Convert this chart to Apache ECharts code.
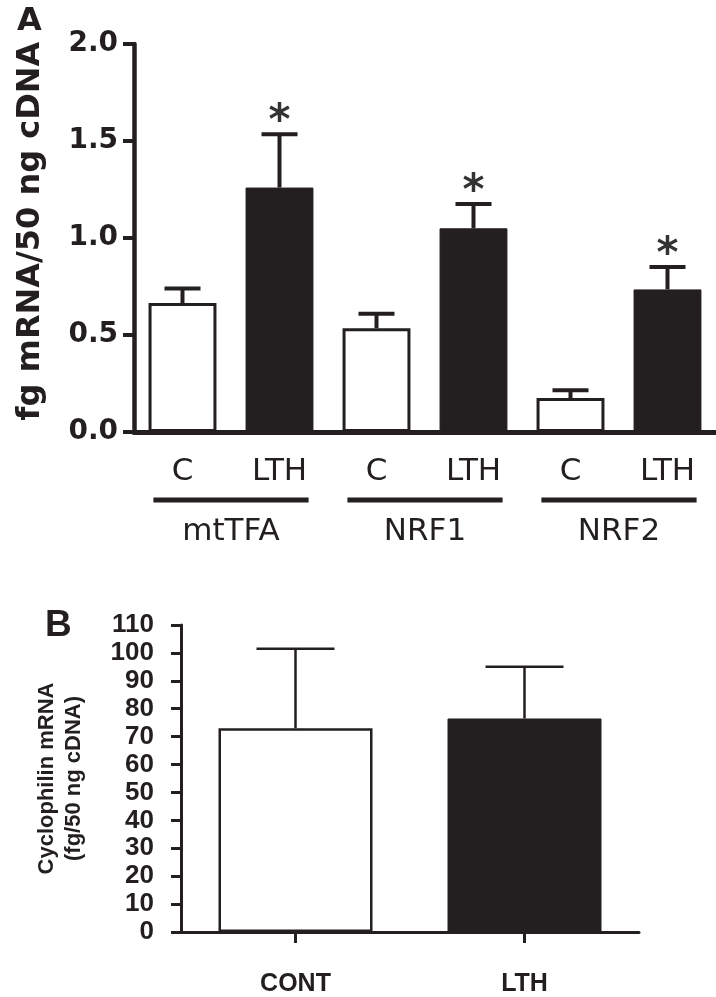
<!DOCTYPE html>
<html>
<head>
<meta charset="utf-8">
<script src="https://cdn.jsdelivr.net/npm/echarts@6/dist/echarts.min.js"></script>
<style>html,body{margin:0;padding:0;background:#fff}#c{width:716px;height:997px}</style>
</head>
<body>
<div id="c"></div>
<script>
// ---------- Panel A data ----------
const genes = ['mtTFA', 'NRF1', 'NRF2'];
const groupsA = ['C', 'LTH'];
const controlMean = [0.665, 0.535, 0.175];
const controlSEM = [0.075, 0.075, 0.04];
const lthMean = [1.26, 1.05, 0.735];
const lthSEM = [0.275, 0.125, 0.115];
const lthSignificant = [true, true, true];
const yTicksA = [0, 0.5, 1.0, 1.5, 2.0];

// ---------- Panel B data ----------
const categoriesB = ['CONT', 'LTH'];
const cyclophilinMean = [73, 76.5];
const cyclophilinSEM = [28.5, 18.5];
const yTicksB = [0, 10, 20, 30, 40, 50, 60, 70, 80, 90, 100, 110];

const INK = '#231f20';
const WHITE = '#ffffff';

// build category list and bar/error data for panel A
const catsA = [];
const barA = [];
const errA = [];
genes.forEach((g, i) => {
  catsA.push(g + '|' + groupsA[0]);
  catsA.push(g + '|' + groupsA[1]);
  barA.push({ value: controlMean[i], itemStyle: { color: WHITE, borderColor: INK, borderWidth: 3 } });
  barA.push({ value: lthMean[i], itemStyle: { color: INK, borderColor: INK, borderWidth: 1 } });
  errA.push([2 * i, controlMean[i], controlSEM[i], 0]);
  errA.push([2 * i + 1, lthMean[i], lthSEM[i], lthSignificant[i] ? 1 : 0]);
});
const groupSpans = genes.map((g, i) => [2 * i, 2 * i + 1, 0]);

const barB = categoriesB.map((c, i) => ({
  value: cyclophilinMean[i],
  itemStyle: i === 0 ? { color: WHITE, borderColor: INK, borderWidth: 2.5 } : { color: INK, borderColor: INK, borderWidth: 1 }
}));
const errB = categoriesB.map((c, i) => [i, cyclophilinMean[i], cyclophilinSEM[i], 0]);

function errorRenderer(capHalf, lw, starFont, starOffset) {
  return function (params, api) {
    const x = api.value(0), m = api.value(1), s = api.value(2), sig = api.value(3);
    const p0 = api.coord([x, m]);
    const p1 = api.coord([x, m + s]);
    const st = { stroke: INK, lineWidth: lw };
    const children = [
      { type: 'line', shape: { x1: p0[0], y1: p0[1], x2: p1[0], y2: p1[1] }, style: st },
      { type: 'line', shape: { x1: p1[0] - capHalf, y1: p1[1], x2: p1[0] + capHalf, y2: p1[1] }, style: st }
    ];
    if (sig) {
      children.push({
        type: 'text', x: p1[0], y: p1[1] - starOffset,
        style: { text: '*', fill: '#333', font: starFont, align: 'center', verticalAlign: 'middle' }
      });
    }
    return { type: 'group', children: children };
  };
}

function groupRenderer(params, api) {
  const a = api.coord([api.value(0), 0]);
  const b = api.coord([api.value(1), 0]);
  const band = api.size([1, 0])[0];
  const mid = (a[0] + b[0]) / 2;
  const half = 0.8 * band;
  const base = a[1];
  return {
    type: 'group',
    children: [
      { type: 'line', shape: { x1: mid - half, y1: base + 68, x2: mid + half, y2: base + 68 }, style: { stroke: INK, lineWidth: 5 } },
      { type: 'text', x: mid, y: base + 100, style: { text: genes[params.dataIndex], fill: INK, font: '31px "DejaVu Sans"', align: 'center', verticalAlign: 'middle' } }
    ]
  };
}

const chart = echarts.init(document.getElementById('c'), null, { renderer: 'canvas' });
chart.setOption({
  animation: false,
  backgroundColor: '#fff',
  title: [
    { text: 'A', left: 12, top: 1, textStyle: { fontFamily: 'DejaVu Sans', fontWeight: 'bold', fontSize: 32, color: INK } },
    { text: 'B', left: 40, top: 602, textStyle: { fontFamily: 'Liberation Sans', fontWeight: 'bold', fontSize: 37, color: INK } }
  ],
  grid: [
    { left: 134, right: 0, top: 44, height: 388 },
    { left: 181, right: 77, top: 625, height: 307 }
  ],
  xAxis: [
    {
      gridIndex: 0, type: 'category', data: catsA,
      axisLine: { lineStyle: { color: INK, width: 5 } },
      axisTick: { show: false },
      axisLabel: { formatter: v => v.split('|')[1], color: INK, fontFamily: 'DejaVu Sans', fontSize: 31, margin: 24 }
    },
    {
      gridIndex: 1, type: 'category', data: categoriesB,
      axisLine: { lineStyle: { color: INK, width: 3 } },
      axisTick: { show: true, alignWithLabel: true, length: 11, lineStyle: { color: INK, width: 3 } },
      axisLabel: { color: INK, fontFamily: 'Liberation Sans', fontWeight: 'bold', fontSize: 25, margin: 40 }
    }
  ],
  yAxis: [
    {
      gridIndex: 0, type: 'value', min: yTicksA[0], max: yTicksA[yTicksA.length - 1], interval: 0.5,
      axisLine: { show: true, lineStyle: { color: INK, width: 4.5 } },
      axisTick: { show: true, length: 11, lineStyle: { color: INK, width: 4 } },
      splitLine: { show: false },
      axisLabel: { formatter: v => v.toFixed(1), color: INK, fontFamily: 'DejaVu Sans', fontWeight: 'bold', fontSize: 28, margin: 16 },
      name: 'fg mRNA/50 ng cDNA', nameLocation: 'middle', nameGap: 87,
      nameTextStyle: { color: INK, fontFamily: 'DejaVu Sans', fontWeight: 'bold', fontSize: 32, padding: [0, 0, 0, 14] }
    },
    {
      gridIndex: 1, type: 'value', min: yTicksB[0], max: yTicksB[yTicksB.length - 1], interval: 10,
      axisLine: { show: true, lineStyle: { color: INK, width: 3 } },
      axisTick: { show: true, length: 10, lineStyle: { color: INK, width: 3 } },
      splitLine: { show: false },
      axisLabel: { color: INK, fontFamily: 'Liberation Sans', fontWeight: 'bold', fontSize: 26, margin: 27 },
      name: 'Cyclophilin mRNA\n(fg/50 ng cDNA)', nameLocation: 'middle', nameGap: 94,
      nameTextStyle: { color: INK, fontFamily: 'Liberation Sans', fontWeight: 'bold', fontSize: 22, lineHeight: 27 }
    }
  ],
  series: [
    { type: 'bar', xAxisIndex: 0, yAxisIndex: 0, data: barA, barWidth: '70%' },
    { type: 'custom', xAxisIndex: 0, yAxisIndex: 0, data: errA, renderItem: errorRenderer(18, 4, 'bold 42px "DejaVu Sans"', 11), z: 3, silent: true },
    { type: 'custom', xAxisIndex: 0, yAxisIndex: 0, data: groupSpans, renderItem: groupRenderer, encode: { x: [0, 1], y: 2 }, silent: true },
    { type: 'bar', xAxisIndex: 1, yAxisIndex: 1, data: barB, barWidth: 154 },
    { type: 'custom', xAxisIndex: 1, yAxisIndex: 1, data: errB, renderItem: errorRenderer(39, 2.5, 'bold 40px "DejaVu Sans"', 11), z: 3, silent: true }
  ]
});
</script>
</body>
</html>
